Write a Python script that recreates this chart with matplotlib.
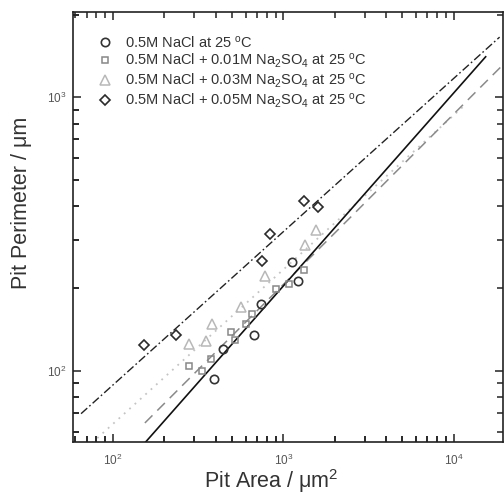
import numpy as np
import matplotlib
matplotlib.use("Agg")
import matplotlib.pyplot as plt
import matplotlib.lines as mlines
from matplotlib.ticker import FixedLocator, NullFormatter

plt.rcParams['font.family'] = ['Liberation Sans', 'DejaVu Sans']
plt.rcParams['mathtext.fontset'] = 'custom'
plt.rcParams['mathtext.rm'] = 'Liberation Sans'
plt.rcParams['mathtext.it'] = 'Liberation Sans:italic'
plt.rcParams.update({
    'xtick.direction': 'in', 'ytick.direction': 'in',
    'xtick.top': True, 'xtick.bottom': True,
    'ytick.left': True, 'ytick.right': True,
    'xtick.minor.top': True, 'xtick.minor.bottom': True,
    'ytick.minor.left': True, 'ytick.minor.right': True,
    'xtick.major.size': 6, 'ytick.major.size': 6,
    'xtick.minor.size': 4, 'ytick.minor.size': 4,
    'xtick.major.width': 1.1, 'ytick.major.width': 1.1,
    'xtick.minor.width': 1.1, 'ytick.minor.width': 1.1,
})

# Measured pit area (um^2) and perimeter (um) for each solution
area_nacl = [391, 440, 674, 741, 1121, 1221]
perim_nacl = [93.3, 120, 134.7, 175.7, 248.9, 213.3]

area_s001 = [279, 333, 376, 492, 520, 608, 653, 912, 1077, 1319]
perim_s001 = [104.0, 99.7, 110.3, 138.5, 129.5, 148.1, 161.1, 198.8, 207.4, 233.3]

area_s003 = [279, 354, 379, 567, 779, 1346, 1562]
perim_s003 = [125.0, 128.9, 148.1, 171.3, 221.8, 288, 326.8]

area_s005 = [153, 234, 751, 833, 1319, 1600]
perim_s005 = [124.5, 135.8, 251.6, 317.2, 417.9, 397.4]

# Power-law fits P = 10**b * A**m : (m, b, A_min, A_max)
fit_nacl = (0.705, 0.195, 140, 15400)
fit_s001 = (0.6224, 0.4484, 154, 22000)
fit_s003 = (0.5637, 0.6789, 70, 11300)
fit_s005 = (0.5598, 0.8289, 65, 18600)

labels = [
    r'0.5M NaCl at 25 $^{\rm o}$C',
    r'0.5M NaCl + 0.01M Na$_2$SO$_4$ at 25 $^{\rm o}$C',
    r'0.5M NaCl + 0.03M Na$_2$SO$_4$ at 25 $^{\rm o}$C',
    r'0.5M NaCl + 0.05M Na$_2$SO$_4$ at 25 $^{\rm o}$C',
]

fig = plt.figure(figsize=(5.04, 4.94), dpi=100)
ax = fig.add_axes([73 / 504, 52 / 494, 430 / 504, 430 / 494])
ax.set_xscale('log')
ax.set_yscale('log')


def fit_line(fit):
    m, b, a0, a1 = fit
    a = np.logspace(np.log10(a0), np.log10(a1), 200)
    return a, 10 ** b * a ** m


a, p = fit_line(fit_s005)
ax.plot(a, p, color='#222222', lw=1.0, ls=(0, (6, 2, 1.2, 2)))
a, p = fit_line(fit_s003)
ax.plot(a, p, color='#c4c4c4', lw=1.3, ls=(0, (1, 3)))
a, p = fit_line(fit_s001)
ax.plot(a, p, color='#8a8a8a', lw=1.1, ls=(0, (7, 4.5)))
a, p = fit_line(fit_nacl)
ax.plot(a, p, color='#111111', lw=1.2, ls='-')

ax.plot(area_nacl, perim_nacl, ls='none', marker='o', ms=6, mfc='none',
        mec='#333333', mew=1.2, label=labels[0])
ax.plot(area_s001, perim_s001, ls='none', marker='s', ms=5, mfc='none',
        mec='#888888', mew=1.1, label=labels[1])
ax.plot(area_s003, perim_s003, ls='none', marker='^', ms=7, mfc='none',
        mec='#b8b8b8', mew=1.1, label=labels[2])
ax.plot(area_s005, perim_s005, ls='none', marker='D', ms=5.5, mfc='none',
        mec='#2a2a2a', mew=1.2, label=labels[3])

xmin, xmax = 58.3, 19470
ymin, ymax = 55, 2045
ax.set_xlim(xmin, xmax)
ax.set_ylim(ymin, ymax)


def minor_ticks(lo, hi):
    vals = [k * 10.0 ** d for d in range(0, 6) for k in range(2, 10)]
    return [v for v in vals if lo <= v <= hi]


xminor = minor_ticks(xmin, xmax)
yminor = minor_ticks(ymin, ymax)
ax.xaxis.set_minor_locator(FixedLocator(xminor))
ax.yaxis.set_minor_locator(FixedLocator(yminor))
ax.xaxis.set_minor_formatter(NullFormatter())
ax.yaxis.set_minor_formatter(NullFormatter())
ax.xaxis.set_ticks_position('both')
ax.yaxis.set_ticks_position('both')

ax.tick_params(which='both', direction='in', top=True, right=True,
               bottom=True, left=True,
               colors='#222222', labelcolor='#555555', labelsize=8.5)
ax.tick_params(axis='x', which='major', pad=8)
ax.tick_params(axis='y', which='major', pad=5)

# inner minor tick marks along the bottom and left spines
ax.plot(xminor, [0] * len(xminor), transform=ax.get_xaxis_transform(),
        ls='none', marker=mlines.TICKUP, ms=4, mew=1.1, color='#222222',
        clip_on=False, zorder=5)
ax.plot([0] * len(yminor), yminor, transform=ax.get_yaxis_transform(),
        ls='none', marker=mlines.TICKRIGHT, ms=4, mew=1.1, color='#222222',
        clip_on=False, zorder=5)

for s in ax.spines.values():
    s.set_color('#222222')
    s.set_linewidth(1.2)

ax.set_xlabel('Pit Area / μm$^2$', fontsize=15.5, color='#333333')
ax.set_ylabel('Pit Perimeter / μm', fontsize=15.5, color='#333333')
ax.xaxis.set_label_coords(0.46, -0.09)
ax.yaxis.set_label_coords(-0.12, 0.556)
ax.xaxis.label.set_va('center')
ax.yaxis.label.set_va('center')

leg = ax.legend(loc='upper left', bbox_to_anchor=(0.033, 0.968), frameon=False,
                fontsize=10.5, handlelength=1.2, handletextpad=0.8,
                labelspacing=0.1, borderaxespad=0.2, numpoints=1)
for t in leg.get_texts():
    t.set_color('#333333')

fig.savefig('out.png', dpi=100)
